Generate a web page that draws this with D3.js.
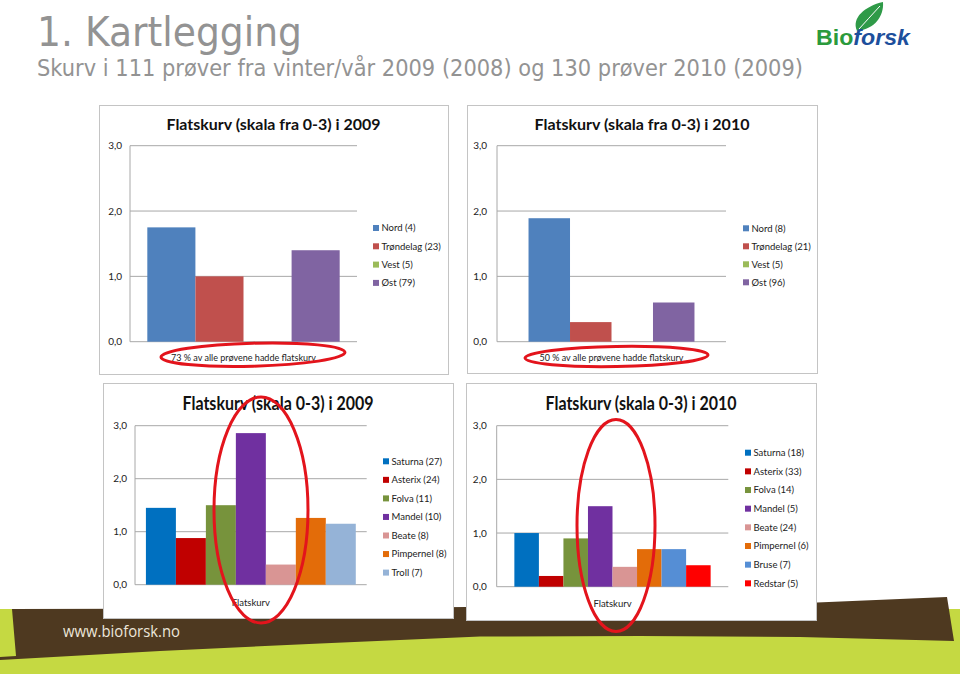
<!DOCTYPE html>
<html><head><meta charset="utf-8">
<script src="https://cdn.jsdelivr.net/npm/d3@7"></script>
<style>body{margin:0;background:#fff;overflow:hidden} svg{display:block}</style>
</head><body>
<script>
// ---------- DATA ----------
const yTicks = [0, 1, 2, 3];

const regions2009 = ["Nord (4)", "Trøndelag (23)", "Vest (5)", "Øst (79)"];
const regionValues2009 = [1.75, 1.00, 0, 1.40];
const regions2010 = ["Nord (8)", "Trøndelag (21)", "Vest (5)", "Øst (96)"];
const regionValues2010 = [1.89, 0.30, 0, 0.60];
const regionColors = ["#4f81bd", "#c0504d", "#9bbb59", "#8064a2"];

const varieties2009 = ["Saturna (27)", "Asterix (24)", "Folva (11)", "Mandel (10)", "Beate (8)", "Pimpernel (8)", "Troll (7)"];
const varietyValues2009 = [1.45, 0.88, 1.50, 2.86, 0.38, 1.26, 1.15];
const varietyColors2009 = ["#0070c0", "#c00000", "#77933c", "#7030a0", "#d99594", "#e36c09", "#95b3d7"];

const varieties2010 = ["Saturna (18)", "Asterix (33)", "Folva (14)", "Mandel (5)", "Beate (24)", "Pimpernel (6)", "Bruse (7)", "Redstar (5)"];
const varietyValues2010 = [1.00, 0.20, 0.90, 1.50, 0.37, 0.70, 0.70, 0.40];
const varietyColors2010 = ["#0070c0", "#c00000", "#77933c", "#7030a0", "#d99594", "#e36c09", "#558ed5", "#ff0000"];

const headerTitle = "1. Kartlegging";
const headerSubtitle = "Skurv i 111 prøver fra vinter/vår 2009 (2008) og 130 prøver 2010 (2009)";
const footerText = "www.bioforsk.no";
const logoParts = ["Bio", "forsk"];

// ---------- LAYOUT ----------
const charts = [
  { title: "Flatskurv (skala fra 0-3) i 2009", category: "73 % av alle prøvene hadde flatskurv",
    series: regions2009, values: regionValues2009, colors: regionColors,
    panel: [99, 105, 448, 374], plot: { l: 130, r: 357, t: 145.7, b: 341.7 }, outer: 0.09, tickPad: 8,
    titleY: 130, titleSize: 16, titleW: 214, catY: 358, catW: 145,
    legendX: 373, legendY0: 228, legendStep: 18.3,
    ellipse: { cx: 253, cy: 354.7, rx: 92, ry: 11.5, rot: -1.5 } },
  { title: "Flatskurv (skala fra 0-3) i 2010", category: "50 % av alle prøvene hadde flatskurv",
    series: regions2010, values: regionValues2010, colors: regionColors,
    panel: [467, 105, 817, 373], plot: { l: 497, r: 726, t: 145.7, b: 341.7 }, outer: 0.19, tickPad: 10,
    titleY: 130, titleSize: 16, titleW: 215, catY: 358, catW: 144,
    legendX: 743, legendY0: 228.3, legendStep: 18,
    ellipse: { cx: 616.5, cy: 356.5, rx: 91.5, ry: 10, rot: -1 } },
  { title: "Flatskurv (skala 0-3) i 2009", category: "Flatskurv",
    series: varieties2009, values: varietyValues2009, colors: varietyColors2009,
    panel: [103, 383, 453, 618], plot: { l: 135, r: 366.7, t: 425.7, b: 584.7 }, outer: 0.052, tickPad: 8,
    titleY: 409.5, titleSize: 18.5, titleW: 191, catY: 602.7, catW: 0,
    legendX: 383, legendY0: 461.3, legendStep: 18.55,
    ellipse: { cx: 261, cy: 510, rx: 47, ry: 113, rot: 0 } },
  { title: "Flatskurv (skala 0-3) i 2010", category: "Flatskurv",
    series: varieties2010, values: varietyValues2010, colors: varietyColors2010,
    panel: [466, 383, 816, 620], plot: { l: 496.7, r: 728.3, t: 425.7, b: 586.7 }, outer: 0.09, tickPad: 10,
    titleY: 409.5, titleSize: 18.5, titleW: 191, catY: 604, catW: 0,
    legendX: 745, legendY0: 452.7, legendStep: 18.66,
    ellipse: { cx: 616, cy: 525.5, rx: 39, ry: 106, rot: 0 } }
];

const FONT = "Lato, 'Open Sans', sans-serif";
const svg = d3.select("body").append("svg").attr("width", 960).attr("height", 674);

// ---------- HEADER ----------
svg.append("text").attr("x", 37).attr("y", 46).text(headerTitle)
  .attr("font-family", "'DejaVu Sans', Verdana, sans-serif").attr("font-size", 40).attr("fill", "#939393")
  .attr("textLength", 265).attr("lengthAdjust", "spacingAndGlyphs");
svg.append("text").attr("x", 37).attr("y", 76).text(headerSubtitle)
  .attr("font-family", "'DejaVu Sans', Verdana, sans-serif").attr("font-size", 23).attr("fill", "#939393")
  .attr("textLength", 766).attr("lengthAdjust", "spacingAndGlyphs");

// logo
const logo = svg.append("g");
logo.append("path").attr("d", "M857,31 C851,18 865,6 883,2 C884,16 875,29 857,31 Z").attr("fill", "#2f9a48");
logo.append("path").attr("d", "M859,29 Q868,19 880,6").attr("fill", "none").attr("stroke", "#fff").attr("stroke-width", 1);
const logoText = logo.append("text").attr("x", 816).attr("y", 45)
  .attr("font-family", "'Liberation Sans', Arial, sans-serif").attr("font-weight", "bold").attr("font-size", 22)
  .attr("textLength", 94).attr("lengthAdjust", "spacingAndGlyphs");
logoText.append("tspan").attr("fill", "#2b9a3c").text(logoParts[0]);
logoText.append("tspan").attr("fill", "#1d4f9c").attr("font-style", "italic").text(logoParts[1]);

// ---------- FOOTER ----------
svg.append("rect").attr("x", 0).attr("y", 609).attr("width", 960).attr("height", 65).attr("fill", "#c5d942");
const footerTop = [[12, 609], [300, 608.5], [466, 607], [817, 602.5], [947, 597]];
const footerBottom = [[954, 641], [800, 637], [640, 636], [480, 636.5], [320, 643.5], [160, 651], [0, 660]];
const footerPts = footerTop.concat(footerBottom).concat([[0, 657], [16, 656]]);
svg.append("path").attr("d", "M" + footerPts.map(p => p.join(",")).join("L") + "Z").attr("fill", "#4e3920");
svg.append("text").attr("x", 63).attr("y", 637).text(footerText)
  .attr("font-family", "'Open Sans', sans-serif").attr("font-size", 15.5).attr("fill", "#ece6da")
  .attr("textLength", 117).attr("lengthAdjust", "spacingAndGlyphs");

// ---------- CHARTS ----------
const fmt = d => d.toFixed(1).replace(".", ",");

charts.forEach(c => {
  const g = svg.append("g");
  const [px0, py0, px1, py1] = c.panel;
  g.append("rect").attr("x", px0 + 0.5).attr("y", py0 + 0.5).attr("width", px1 - px0).attr("height", py1 - py0)
    .attr("fill", "#fff").attr("stroke", "#c4c4c4").attr("stroke-width", 1);

  const p = c.plot;
  const y = d3.scaleLinear().domain([0, 3]).range([p.b, p.t]);

  g.append("g").selectAll("line").data(yTicks).join("line")
    .attr("x1", p.l).attr("x2", p.r).attr("y1", d => y(d)).attr("y2", d => y(d))
    .attr("stroke", "#a8a8a8").attr("stroke-width", 1);
  g.append("line").attr("x1", p.l).attr("x2", p.l).attr("y1", p.t).attr("y2", p.b).attr("stroke", "#a8a8a8");

  const ax = g.append("g").attr("transform", `translate(${p.l},0)`)
    .call(d3.axisLeft(y).tickValues(yTicks).tickFormat(fmt).tickSize(0).tickPadding(c.tickPad));
  ax.select(".domain").remove();
  ax.selectAll("text").attr("font-family", FONT).attr("font-size", 10).attr("fill", "#222");

  const x0 = d3.scaleBand().domain([c.category]).range([p.l, p.r]).paddingInner(0).paddingOuter(c.outer);
  const x1 = d3.scaleBand().domain(c.series).range([0, x0.bandwidth()]).padding(0);
  const rows = c.series.map((s, i) => ({ s, v: c.values[i], col: c.colors[i] }));
  g.append("g").attr("transform", `translate(${x0(c.category)},0)`)
    .selectAll("rect").data(rows).join("rect")
    .attr("x", d => x1(d.s)).attr("width", x1.bandwidth())
    .attr("y", d => y(d.v)).attr("height", d => y(0) - y(d.v)).attr("fill", d => d.col);

  const cat = g.append("text").attr("x", x0(c.category) + x0.bandwidth() / 2).attr("y", c.catY).attr("dy", "0.35em")
    .attr("text-anchor", "middle").attr("font-family", FONT).attr("font-size", 9.5).attr("fill", "#222").text(c.category);
  if (c.catW) cat.attr("textLength", c.catW).attr("lengthAdjust", "spacingAndGlyphs");

  const lg = g.append("g").selectAll("g").data(rows).join("g")
    .attr("transform", (d, i) => `translate(${c.legendX},${c.legendY0 + i * c.legendStep})`);
  lg.append("rect").attr("x", 0).attr("y", -3).attr("width", 6).attr("height", 6).attr("fill", d => d.col);
  lg.append("text").attr("x", 8.5).attr("dy", "0.35em").attr("font-family", FONT).attr("font-size", 9.5)
    .attr("fill", "#222").text(d => d.s);

  g.append("text").attr("x", (px0 + px1) / 2).attr("y", c.titleY).attr("text-anchor", "middle")
    .attr("font-family", FONT).attr("font-weight", "bold").attr("font-size", c.titleSize).attr("fill", "#111")
    .attr("textLength", c.titleW).attr("lengthAdjust", "spacingAndGlyphs").text(c.title);
});

// ---------- RED ELLIPSES ----------
svg.append("g").selectAll("ellipse").data(charts.map(c => c.ellipse)).join("ellipse")
  .attr("cx", 0).attr("cy", 0).attr("rx", d => d.rx).attr("ry", d => d.ry)
  .attr("transform", d => `translate(${d.cx},${d.cy}) rotate(${d.rot})`)
  .attr("fill", "none").attr("stroke", "#e3141c").attr("stroke-width", 3);
</script>
</body></html>
